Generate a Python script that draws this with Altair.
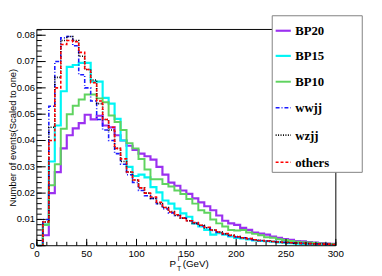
import altair as alt
import pandas as pd
import numpy as np

# ---------------- data (normalised histograms, 6 GeV bins from 0 to 300) ----------------
bin_edges = list(range(0, 301, 6))

bp20 = [0, 0.004, 0.020, 0.028, 0.037, 0.042, 0.0446, 0.0466, 0.0498, 0.048,
        0.0494, 0.0457, 0.0450, 0.0420, 0.0400, 0.0380, 0.0364, 0.0350, 0.0340, 0.0327,
        0.0300, 0.0270, 0.0240, 0.0228, 0.0210, 0.0197, 0.0180, 0.0165, 0.0150, 0.0135,
        0.0115, 0.0095, 0.0085, 0.0079, 0.0068, 0.0060, 0.0050, 0.0046, 0.0042, 0.0035,
        0.0030, 0.0025, 0.0022, 0.0018, 0.0017, 0.0014, 0.0012, 0.0010, 0.0008, 0.0007]

bp15 = [0, 0.008, 0.032, 0.0457, 0.0587, 0.068, 0.0687, 0.0695, 0.0695, 0.0624,
        0.0624, 0.0562, 0.0540, 0.0482, 0.0400, 0.0300, 0.0265, 0.0270, 0.0260, 0.0223,
        0.0203, 0.0172, 0.0160, 0.0141, 0.0123, 0.0110, 0.0085, 0.0073, 0.0060, 0.0042,
        0.0048, 0.0042, 0.0035, 0.0030, 0.0028, 0.0024, 0.0020, 0.0018, 0.0017, 0.0015,
        0.0013, 0.0012, 0.0010, 0.0008, 0.0006, 0.0006, 0.0005, 0.0005, 0.0005, 0.0004]

bp10 = [0, 0.008, 0.023, 0.031, 0.0445, 0.050, 0.0532, 0.0556, 0.0575, 0.0575,
        0.0560, 0.0545, 0.0495, 0.0470, 0.0440, 0.0390, 0.0370, 0.0330, 0.0290, 0.0253,
        0.0253, 0.0235, 0.0225, 0.0210, 0.0197, 0.0178, 0.0160, 0.0135, 0.0125, 0.0100,
        0.0085, 0.0073, 0.0060, 0.0058, 0.0060, 0.0050, 0.0045, 0.0040, 0.0032, 0.0030,
        0.0025, 0.0022, 0.0018, 0.0015, 0.0013, 0.0012, 0.0010, 0.0009, 0.0008, 0.0007]

wwjj = [0, 0.010, 0.053, 0.070, 0.079, 0.0795, 0.076, 0.065, 0.060, 0.055,
        0.048, 0.044, 0.040, 0.035, 0.031, 0.027, 0.024, 0.021, 0.019, 0.018,
        0.016, 0.014, 0.0125, 0.0115, 0.0105, 0.0095, 0.0085, 0.0075, 0.0068, 0.0058,
        0.0050, 0.0045, 0.0038, 0.0033, 0.0030, 0.0026, 0.0022, 0.0020, 0.0018, 0.0016,
        0.0014, 0.0013, 0.0011, 0.0010, 0.0009, 0.0008, 0.0007, 0.0007, 0.0006, 0.0005]

wzjj = [0, 0.009, 0.045, 0.064, 0.078, 0.0795, 0.078, 0.072, 0.067, 0.063,
        0.054, 0.048, 0.044, 0.037, 0.032, 0.028, 0.025, 0.022, 0.020, 0.018,
        0.016, 0.0145, 0.0130, 0.0115, 0.0105, 0.0095, 0.0085, 0.0078, 0.0068, 0.0060,
        0.0052, 0.0045, 0.0040, 0.0035, 0.0030, 0.0027, 0.0023, 0.0020, 0.0018, 0.0016,
        0.0014, 0.0012, 0.0011, 0.0010, 0.0009, 0.0008, 0.0007, 0.0007, 0.0006, 0.0005]

others = [0, 0.009, 0.040, 0.060, 0.0765, 0.078, 0.0775, 0.0735, 0.067, 0.062,
          0.055, 0.048, 0.045, 0.037, 0.033, 0.028, 0.025, 0.022, 0.020, 0.0185,
          0.0165, 0.0145, 0.0128, 0.0118, 0.0105, 0.0095, 0.0088, 0.0078, 0.0070, 0.0060,
          0.0052, 0.0046, 0.0040, 0.0034, 0.0030, 0.0027, 0.0023, 0.0020, 0.0018, 0.0016,
          0.0014, 0.0012, 0.0011, 0.0010, 0.0009, 0.0008, 0.0007, 0.0006, 0.0006, 0.0005]

series_names = ["BP20", "BP15", "BP10", "wwjj", "wzjj", "others"]
series_values = [bp20, bp15, bp10, wwjj, wzjj, others]
series_colors = ["#9b30f0", "#00f5f5", "#5fd35f", "#1a1aff", "#000000", "#ff0000"]
series_dash = [None, None, None, [4, 2, 1, 2], [1, 1.5], [3, 2]]
series_width = [2.2, 2.2, 2.0, 1.6, 1.6, 1.6]

x_major = [0, 50, 100, 150, 200, 250, 300]
x_labels = ["0", "50", "100", "150", "200", "250", "300"]
x_minor = list(range(0, 301, 10))
y_major = [0, 0.01, 0.02, 0.03, 0.04, 0.05, 0.06, 0.07, 0.08]
y_labels = ["0", "0.01", "0.02", "0.03", "0.04", "0.05", "0.06", "0.07", "0.08"]
y_minor = [round(v, 3) for v in np.arange(0, 0.0821, 0.002)]

# ---------------- layout ----------------
W, H = 305.5, 221
YMAX = 0.0822
xs = alt.Scale(domain=[0, 300], nice=False, zero=False)
ys = alt.Scale(domain=[0, YMAX], nice=False, zero=True)
AX_FONT = "Liberation Sans"

layers = []

# histograms
for i, (name, vals) in enumerate(zip(series_names, series_values)):
    df = pd.DataFrame({"x": bin_edges, "y": list(vals) + [vals[-1]]})
    kw = dict(interpolate="step-after", color=series_colors[i],
              strokeWidth=series_width[i], clip=True)
    if series_dash[i] is not None:
        kw["strokeDash"] = series_dash[i]
    layers.append(alt.Chart(df).mark_line(**kw).encode(
        x=alt.X("x:Q", scale=xs, axis=None),
        y=alt.Y("y:Q", scale=ys, axis=None)))

# ticks (inward)
def xticks(vals, length):
    return alt.Chart(pd.DataFrame({"v": vals})).mark_rule(color="black", strokeWidth=1).encode(
        x=alt.X("v:Q", scale=xs, axis=None), y=alt.value(H), y2=alt.value(H - length))

def yticks(vals, length):
    return alt.Chart(pd.DataFrame({"v": vals})).mark_rule(color="black", strokeWidth=1).encode(
        y=alt.Y("v:Q", scale=ys, axis=None), x=alt.value(0), x2=alt.value(length))

layers += [xticks(x_minor, 4), xticks(x_major, 7), yticks(y_minor, 5), yticks(y_major, 9)]

# tick labels
layers.append(alt.Chart(pd.DataFrame({"v": x_major, "t": x_labels})).mark_text(
    font=AX_FONT, fontSize=10, align="center", baseline="top", color="black").encode(
    x=alt.X("v:Q", scale=xs, axis=None), y=alt.value(H + 4), text="t:N"))
layers.append(alt.Chart(pd.DataFrame({"v": y_major, "t": y_labels})).mark_text(
    font=AX_FONT, fontSize=9.6, align="right", baseline="middle", color="black").encode(
    y=alt.Y("v:Q", scale=ys, axis=None), x=alt.value(-2), text="t:N"))

one = pd.DataFrame({"a": [0]})

def rule(x1, y1, x2, y2, color="black", width=1, dash=None):
    kw = dict(color=color, strokeWidth=width)
    if dash is not None:
        kw["strokeDash"] = dash
    return alt.Chart(one).mark_rule(**kw).encode(
        x=alt.value(x1), y=alt.value(y1), x2=alt.value(x2), y2=alt.value(y2))

def text(s, x, y, size=10, font=AX_FONT, weight="normal", align="left",
         baseline="alphabetic", angle=0):
    kw = dict(font=font, fontSize=size, fontWeight=weight, align=align,
              baseline=baseline, color="black")
    if angle:
        kw["angle"] = angle
    return alt.Chart(one).mark_text(**kw).encode(
        x=alt.value(x), y=alt.value(y), text=alt.value(s))

# frame
LEG_X0, LEG_X1, LEG_Y0, LEG_Y1 = 240.5, 332.5, -14, 146
layers += [rule(0, 0, 0, H), rule(0, H, W, H), rule(0, 0, LEG_X0, 0), rule(W, LEG_Y1, W, H)]

# axis titles
layers.append(text("Number of events(Scaled to one)", -29, H / 2, size=9.6,
                   align="center", baseline="top", angle=270))
layers += [
    text("P", 135.5, 243),
    text("l", 144, 236.5, size=7),
    text("T", 143.3, 246.5, size=7),
    text("(GeV)", 149, 243),
]

# legend
layers.append(alt.Chart(one).mark_rect(fill="white", stroke="#808080", strokeWidth=1).encode(
    x=alt.value(LEG_X0), x2=alt.value(LEG_X1), y=alt.value(LEG_Y0), y2=alt.value(LEG_Y1)))
leg_y = [1.3, 27.0, 53.4, 80.0, 108.0, 135.7]
for i, name in enumerate(series_names):
    layers.append(rule(244, leg_y[i], 259.5, leg_y[i], color=series_colors[i],
                       width=series_width[i], dash=series_dash[i]))
    layers.append(text(name, 264, leg_y[i] + 0.5, size=13, font="Liberation Serif",
                       weight="bold", baseline="middle"))

chart = alt.layer(*layers).properties(
    width=W, height=H,
    autosize=alt.AutoSizeParams(type="none"),
    padding={"left": 29.5, "top": 19, "right": 39, "bottom": 28},
).configure_view(stroke=None)

chart.save("out.html", embed_options={"renderer": "svg", "actions": False})
